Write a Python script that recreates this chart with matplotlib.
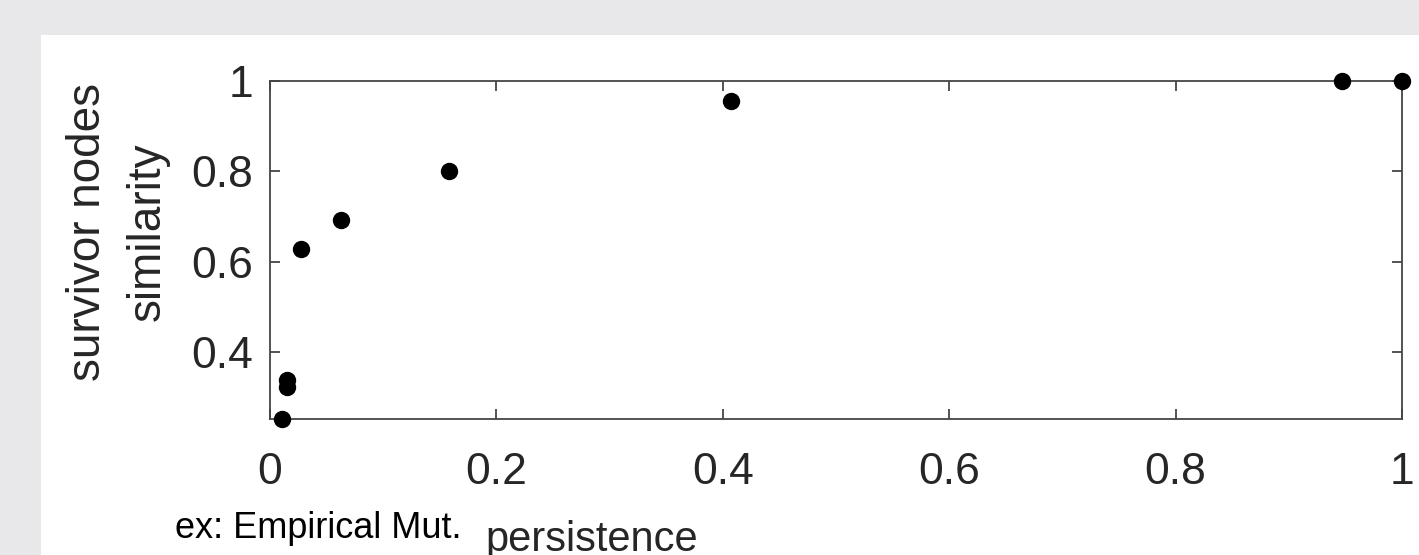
import numpy as np
import matplotlib.pyplot as plt
from matplotlib.patches import Rectangle

plt.rcParams['font.family'] = ['Liberation Sans', 'DejaVu Sans']

# persistence vs survivor nodes similarity
persistence = [0.011, 0.015, 0.015, 0.027, 0.063, 0.158, 0.407, 0.947, 1.0]
similarity = [0.252, 0.322, 0.338, 0.629, 0.693, 0.800, 0.956, 1.0, 1.0]

xticks = [0, 0.2, 0.4, 0.6, 0.8, 1]
xticklabels = ['0', '0.2', '0.4', '0.6', '0.8', '1']
yticks = [0.4, 0.6, 0.8, 1]
yticklabels = ['0.4', '0.6', '0.8', '1']

W, H = 1419, 555
fig = plt.figure(figsize=(W / 100, H / 100), dpi=100)
fig.patch.set_facecolor('#e8e8ea')
# white panel of the screenshot
fig.add_artist(Rectangle((41 / W, 0), 1 - 41 / W, (H - 35) / H,
                         transform=fig.transFigure, facecolor='white',
                         edgecolor='none', zorder=0))

ax = fig.add_axes([270 / W, (H - 419) / H, (1402 - 270) / W, (419 - 81) / H])
ax.set_facecolor('white')
ax.plot(persistence, similarity, 'o', color='black', markersize=11.5,
        clip_on=False, zorder=5)

ax.set_xlim(0, 1)
ax.set_ylim(0.252, 1)
ax.set_xticks(xticks)
ax.set_xticklabels(xticklabels)
ax.set_yticks(yticks)
ax.set_yticklabels(yticklabels)

axcol = '#262626'
for s in ax.spines.values():
    s.set_color('#454545')
    s.set_linewidth(1.3)
ax.tick_params(direction='in', length=7, width=1.3, color='#454545',
               labelcolor=axcol, labelsize=32, top=True, right=True)
ax.tick_params(axis='x', pad=24)
ax.tick_params(axis='y', pad=12)

fig.text(118 / W, (H - 232) / H, 'survivor nodes\nsimilarity', rotation=90,
         ha='center', va='center', multialignment='center', fontsize=33,
         color=axcol, linespacing=1.45)
fig.text(592 / W, (H - 551) / H, 'persistence', ha='center', va='baseline',
         fontsize=30, color=axcol)
fig.text(175 / W, (H - 538) / H, 'ex: Empirical Mut.', ha='left',
         va='baseline', fontsize=26, color='black')

fig.savefig('out.png', dpi=100, facecolor=fig.get_facecolor())
